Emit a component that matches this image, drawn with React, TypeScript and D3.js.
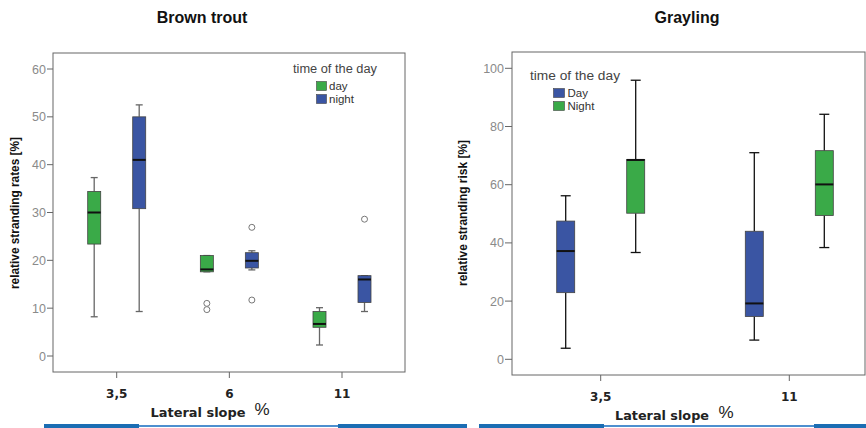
import React from "react";
import * as d3 from "d3";

// ---------- Data ----------
const troutCategories = ["3,5", "6", "11"];
const troutSeries = ["day", "night"];
// [whiskerLow, q1, median, q3, whiskerHigh]
const troutDayStats = [
  [8.2, 23.4, 30.0, 34.4, 37.3],
  [17.6, 17.6, 18.1, 21.0, 21.0],
  [2.3, 6.0, 6.7, 9.3, 10.1],
];
const troutNightStats = [
  [9.3, 30.8, 41.0, 50.0, 52.5],
  [18.0, 18.4, 19.9, 21.6, 22.0],
  [9.3, 11.2, 16.0, 16.8, 16.8],
];
const troutDayOutliers = [[], [11.0, 9.7], []];
const troutNightOutliers = [[], [26.9, 11.7], [28.6]];
const troutTicks = [0, 10, 20, 30, 40, 50, 60];

const graylingCategories = ["3,5", "11"];
const graylingSeries = ["Day", "Night"];
const graylingDayStats = [
  [3.8, 22.9, 37.2, 47.5, 56.2],
  [6.6, 14.7, 19.2, 44.0, 71.0],
];
const graylingNightStats = [
  [36.7, 50.2, 68.5, 68.7, 95.9],
  [38.4, 49.4, 60.1, 71.7, 84.2],
];
const graylingTicks = [0, 20, 40, 60, 80, 100];

const GREEN = "#3aaa48";
const BLUE = "#3a55a3";

type BoxProps = {
  cx: number;
  w: number;
  capW: number;
  stats: number[];
  y: d3.ScaleLinear<number, number>;
  fill: string;
  whiskerColor: string;
  outliers?: number[];
};

function Box({ cx, w, capW, stats, y, fill, whiskerColor, outliers = [] }: BoxProps) {
  const [lo, q1, med, q3, hi] = stats;
  return (
    <g>
      <line x1={cx} x2={cx} y1={y(hi)} y2={y(q3)} stroke={whiskerColor} strokeWidth={1.3} />
      <line x1={cx} x2={cx} y1={y(q1)} y2={y(lo)} stroke={whiskerColor} strokeWidth={1.3} />
      <line x1={cx - capW / 2} x2={cx + capW / 2} y1={y(hi)} y2={y(hi)} stroke={whiskerColor} strokeWidth={1.3} />
      <line x1={cx - capW / 2} x2={cx + capW / 2} y1={y(lo)} y2={y(lo)} stroke={whiskerColor} strokeWidth={1.3} />
      <rect x={cx - w / 2} y={y(q3)} width={w} height={Math.max(1, y(q1) - y(q3))} fill={fill} stroke="#444" strokeWidth={0.8} />
      <line x1={cx - w / 2} x2={cx + w / 2} y1={y(med)} y2={y(med)} stroke="#111" strokeWidth={2} />
      {outliers.map((o, i) => (
        <circle key={i} cx={cx} cy={y(o)} r={3} fill="white" stroke="#777" strokeWidth={1} />
      ))}
    </g>
  );
}

export default function App() {
  // ----- Left chart: Brown trout -----
  const L = { left: 53, right: 405, top: 53, bottom: 372 };
  const yL = d3.scaleLinear().domain([0, 60]).range([356, 69]);
  const xL = d3.scalePoint<string>().domain(troutCategories).range([116.7, 342]);
  const subL = d3.scalePoint<string>().domain(troutSeries).range([-22.5, 22.5]);

  // ----- Right chart: Grayling -----
  const R = { left: 512, right: 865, top: 52, bottom: 375 };
  const yR = d3.scaleLinear().domain([0, 100]).range([359.3, 68.3]);
  const xR = d3.scalePoint<string>().domain(graylingCategories).range([600.7, 789.3]);
  const subR = d3.scalePoint<string>().domain(graylingSeries).range([-35, 35]);

  const tickFont = "'Liberation Sans', Arial, sans-serif";
  const boldFont = "'DejaVu Sans', Verdana, sans-serif";
  const narrowFont = "'Liberation Sans Narrow', 'Liberation Sans', Arial, sans-serif";

  return (
    <svg width={866} height={428} style={{ position: "fixed", left: 0, top: 0, background: "white" }}>
      <rect x={0} y={0} width={866} height={428} fill="white" />

      {/* Titles */}
      <text x={202} y={23} textAnchor="middle" fontFamily={tickFont} fontWeight="bold" fontSize={16} fill="#111">Brown trout</text>
      <text x={687} y={23} textAnchor="middle" fontFamily={tickFont} fontWeight="bold" fontSize={16} fill="#111">Grayling</text>

      {/* ===== Left chart ===== */}
      <rect x={L.left} y={L.top} width={L.right - L.left} height={L.bottom - L.top} fill="white" stroke="#666" strokeWidth={1} />
      {troutTicks.map((t) => (
        <g key={t}>
          <line x1={L.left - 6} x2={L.left} y1={yL(t)} y2={yL(t)} stroke="#666" />
          <text x={L.left - 7} y={yL(t) + 4.5} textAnchor="end" fontFamily={tickFont} fontSize={12.5} fill="#8a8a8a">{t}</text>
        </g>
      ))}
      {troutCategories.map((c) => (
        <g key={c}>
          <line x1={xL(c)!} x2={xL(c)!} y1={L.bottom} y2={L.bottom + 6} stroke="#666" />
          <text x={xL(c)!} y={398} textAnchor="middle" fontFamily={boldFont} fontWeight="bold" fontSize={12} fill="#222">{c}</text>
        </g>
      ))}
      <text transform={`translate(19,213) rotate(-90)`} textAnchor="middle" fontFamily={narrowFont} fontWeight="bold" fontSize={12} fill="#111" textLength={152} lengthAdjust="spacingAndGlyphs">relative stranding rates [%]</text>
      <text x={198} y={417} textAnchor="middle" fontFamily={boldFont} fontWeight="bold" fontSize={12.5} fill="#222" textLength={95} lengthAdjust="spacingAndGlyphs">Lateral slope</text>
      <text x={262} y={415} textAnchor="middle" fontFamily={tickFont} fontSize={17} fill="#222">%</text>

      {troutCategories.map((c, i) => (
        <g key={c}>
          <Box cx={xL(c)! + subL("day")!} w={13} capW={7} stats={troutDayStats[i]} y={yL} fill={GREEN} whiskerColor="#666" outliers={troutDayOutliers[i]} />
          <Box cx={xL(c)! + subL("night")!} w={13} capW={7} stats={troutNightStats[i]} y={yL} fill={BLUE} whiskerColor="#666" outliers={troutNightOutliers[i]} />
        </g>
      ))}

      {/* Left legend */}
      <text x={335} y={73} textAnchor="middle" fontFamily={tickFont} fontSize={12} fill="#444" textLength={84} lengthAdjust="spacingAndGlyphs">time of the day</text>
      <rect x={316.5} y={81.5} width={10} height={9} fill={GREEN} stroke="#444" strokeWidth={0.6} />
      <text x={329} y={90} fontFamily={tickFont} fontSize={11.5} fill="#333">day</text>
      <rect x={316.5} y={94.5} width={10} height={9} fill={BLUE} stroke="#444" strokeWidth={0.6} />
      <text x={329} y={103} fontFamily={tickFont} fontSize={11.5} fill="#333">night</text>

      {/* ===== Right chart ===== */}
      <rect x={R.left} y={R.top} width={R.right - R.left} height={R.bottom - R.top} fill="white" stroke="#666" strokeWidth={1} />
      {graylingTicks.map((t) => (
        <g key={t}>
          <line x1={R.left - 7} x2={R.left} y1={yR(t)} y2={yR(t)} stroke="#666" />
          <text x={R.left - 8} y={yR(t) + 4.5} textAnchor="end" fontFamily={tickFont} fontSize={12.5} fill="#8a8a8a">{t}</text>
        </g>
      ))}
      {graylingCategories.map((c) => (
        <g key={c}>
          <line x1={xR(c)!} x2={xR(c)!} y1={R.bottom} y2={R.bottom + 6} stroke="#666" />
          <text x={xR(c)!} y={401} textAnchor="middle" fontFamily={boldFont} fontWeight="bold" fontSize={12} fill="#222">{c}</text>
        </g>
      ))}
      <text transform={`translate(467,213) rotate(-90)`} textAnchor="middle" fontFamily={narrowFont} fontWeight="bold" fontSize={12} fill="#111" textLength={146} lengthAdjust="spacingAndGlyphs">relative stranding risk [%]</text>
      <text x={662} y={420} textAnchor="middle" fontFamily={boldFont} fontWeight="bold" fontSize={12.5} fill="#222" textLength={94} lengthAdjust="spacingAndGlyphs">Lateral slope</text>
      <text x={726} y={418} textAnchor="middle" fontFamily={tickFont} fontSize={17} fill="#222">%</text>

      {graylingCategories.map((c, i) => (
        <g key={c}>
          <Box cx={xR(c)! + subR("Day")!} w={18} capW={10} stats={graylingDayStats[i]} y={yR} fill={BLUE} whiskerColor="#111" />
          <Box cx={xR(c)! + subR("Night")!} w={18} capW={10} stats={graylingNightStats[i]} y={yR} fill={GREEN} whiskerColor="#111" />
        </g>
      ))}

      {/* Right legend */}
      <text x={575} y={80} textAnchor="middle" fontFamily={tickFont} fontSize={12.5} fill="#444" textLength={90} lengthAdjust="spacingAndGlyphs">time of the day</text>
      <rect x={553.5} y={88.5} width={11} height={9} fill={BLUE} stroke="#444" strokeWidth={0.6} />
      <text x={567.5} y={97} fontFamily={tickFont} fontSize={11.5} fill="#333">Day</text>
      <rect x={553.5} y={101.5} width={11} height={9} fill={GREEN} stroke="#444" strokeWidth={0.6} />
      <text x={567.5} y={110} fontFamily={tickFont} fontSize={11.5} fill="#333">Night</text>

      {/* Bottom decorative rules */}
      <rect x={44} y={424} width={95} height={4} fill="#1b6db3" />
      <rect x={139} y={425} width={199} height={2} fill="#4d8fcf" />
      <rect x={338} y={424} width={129} height={4} fill="#1b6db3" />
      <rect x={479} y={424} width={125} height={4} fill="#1b6db3" />
      <rect x={604} y={425} width={210} height={2} fill="#4d8fcf" />
      <rect x={814} y={424} width={52} height={4} fill="#1b6db3" />
    </svg>
  );
}
